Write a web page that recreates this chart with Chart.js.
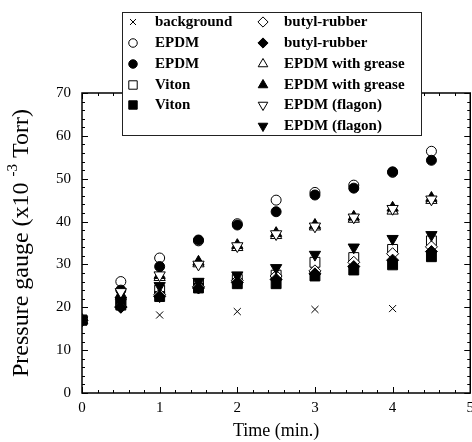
<!DOCTYPE html>
<html>
<head>
<meta charset="utf-8">
<script src="https://cdn.jsdelivr.net/npm/chart.js@4.4.1/dist/chart.umd.min.js"></script>
<style>
html, body { margin: 0; padding: 0; overflow: hidden; background: #fff; }
#pressure-chart { position: absolute; left: 0; top: 0; }
</style>
</head>
<body>
<canvas id="pressure-chart" width="480" height="442"></canvas>
<script>
// ==== data ====
var times = [0, 0.5, 1, 1.5, 2, 2.5, 3, 3.5, 4, 4.5];
var bgTimes = [1, 2, 3, 4];
var background = [18.2, 19.0, 19.5, 19.7];
var epdmOpen = [17, 26.0, 31.5, 35.5, 39.5, 45.0, 46.8, 48.5, 51.5, 56.4];
var epdmFilled = [17, 24.0, 29.5, 35.7, 39.2, 42.3, 46.2, 47.8, 51.6, 54.3];
var vitonOpen = [17, 21.0, 24.0, 25.5, 26.5, 27.5, 30.5, 31.6, 33.5, 35.5];
var vitonFilled = [17, 20.5, 22.5, 24.5, 25.5, 25.5, 27.3, 28.7, 29.9, 31.8];
var butylOpen = [17, 20.1, 22.9, 24.8, 26.2, 27.3, 28.5, 30.5, 32.5, 34.1];
var butylFilled = [17, 20.0, 22.5, 24.5, 25.8, 26.5, 27.8, 29.5, 31.0, 33.0];
var greaseOpen = [17, 22.5, 27.0, 30.2, 34.0, 36.8, 38.8, 40.6, 42.5, 45.0];
var greaseFilled = [17, 23.0, 27.5, 30.6, 34.5, 37.3, 39.2, 41.1, 43.2, 45.5];
var flagonOpen = [17, 23.6, 27.5, 30.0, 34.3, 37.1, 38.9, 41.0, 43.0, 45.2];
var flagonFilled = [17, 21.5, 25.0, 26.0, 27.5, 29.2, 32.3, 34.0, 36.0, 36.9];

var xTicks = [0, 1, 2, 3, 4, 5];
var yTicks = [0, 10, 20, 30, 40, 50, 60, 70];
var legendNames = ['background', 'EPDM', 'EPDM', 'Viton', 'Viton',
  'butyl-rubber', 'butyl-rubber', 'EPDM with grease', 'EPDM with grease', 'EPDM (flagon)', 'EPDM (flagon)'];

// ==== marker styles ====
var serif = '"Liberation Serif", "Times New Roman", serif';
var markers = [
  { style: 'crossRot', rot: 0, r: 5, fill: false },
  { style: 'circle', rot: 0, r: 5, fill: false },
  { style: 'circle', rot: 0, r: 5, fill: true },
  { style: 'rect', rot: 0, r: 7, fill: false },
  { style: 'rect', rot: 0, r: 7, fill: true },
  { style: 'rectRot', rot: 0, r: 6, fill: false },
  { style: 'rectRot', rot: 0, r: 6, fill: true },
  { style: 'triangle', rot: 0, r: 6.5, fill: false },
  { style: 'triangle', rot: 0, r: 6.5, fill: true },
  { style: 'triangle', rot: 180, r: 6.5, fill: false },
  { style: 'triangle', rot: 180, r: 6.5, fill: true }
];

function pairs(xs, ys) {
  return xs.map(function (x, i) { return { x: x, y: ys[i] }; });
}

var seriesData = [
  pairs(bgTimes, background),
  pairs(times, epdmOpen), pairs(times, epdmFilled),
  pairs(times, vitonOpen), pairs(times, vitonFilled),
  pairs(times, butylOpen), pairs(times, butylFilled),
  pairs(times, greaseOpen), pairs(times, greaseFilled),
  pairs(times, flagonOpen), pairs(times, flagonFilled)
];

var datasets = seriesData.map(function (d, i) {
  var m = markers[i];
  return {
    label: legendNames[i],
    data: d,
    order: seriesData.length - i,
    pointStyle: m.style,
    pointRotation: m.rot,
    pointRadius: m.r,
    pointBorderWidth: 1,
    pointBorderColor: '#000',
    pointBackgroundColor: m.fill ? '#000' : '#fff',
    showLine: false
  };
});

// ==== frame with inward ticks ====
var frame = {
  id: 'frame',
  beforeDatasetsDraw: function (chart) {
    var ctx = chart.ctx, a = chart.chartArea;
    var xs = chart.scales.x, ys = chart.scales.y;
    ctx.save();
    ctx.strokeStyle = '#000';
    ctx.lineWidth = 1.5;
    ctx.strokeRect(a.left, a.top, a.right - a.left, a.bottom - a.top);
    ctx.lineWidth = 1;
    ctx.beginPath();
    for (var i = 0; i <= 25; i++) {
      var px = Math.round(xs.getPixelForValue(i * 0.2)) + 0.5;
      var len = i % 5 === 0 ? 6 : 3;
      ctx.moveTo(px, a.bottom); ctx.lineTo(px, a.bottom - len);
      ctx.moveTo(px, a.top); ctx.lineTo(px, a.top + len);
    }
    for (var j = 0; j <= 35; j++) {
      var py = Math.round(ys.getPixelForValue(j * 2)) + 0.5;
      var l2 = j % 5 === 0 ? 6 : 3;
      ctx.moveTo(a.left, py); ctx.lineTo(a.left + l2, py);
      ctx.moveTo(a.right, py); ctx.lineTo(a.right - l2, py);
    }
    ctx.stroke();
    ctx.restore();
  }
};

// ==== y title with superscript ====
var yTitle = {
  id: 'yTitle',
  afterDraw: function (chart) {
    var ctx = chart.ctx;
    var parts = [
      { t: 'Pressure gauge (x10 ', f: '24px ' + serif, dy: 0 },
      { t: '-3', f: '15px ' + serif, dy: -9 },
      { t: ' Torr)', f: '24px ' + serif, dy: 0 }
    ];
    ctx.save();
    ctx.translate(22, 243);
    ctx.rotate(-Math.PI / 2);
    ctx.fillStyle = '#000';
    ctx.textBaseline = 'middle';
    var total = 0;
    parts.forEach(function (p) { ctx.font = p.f; p.w = ctx.measureText(p.t).width; total += p.w; });
    var x = -total / 2;
    parts.forEach(function (p) { ctx.font = p.f; ctx.fillText(p.t, x, p.dy); x += p.w; });
    ctx.restore();
  }
};

// ==== boxed two-column legend ====
var boxLegend = {
  id: 'boxLegend',
  afterDraw: function (chart) {
    var ctx = chart.ctx;
    ctx.save();
    ctx.fillStyle = '#fff';
    ctx.fillRect(122, 12, 299, 123);
    ctx.strokeStyle = '#222';
    ctx.lineWidth = 1;
    ctx.strokeRect(122.5, 12.5, 299, 123);
    ctx.font = 'bold 15px ' + serif;
    ctx.textBaseline = 'middle';
    var rows = [22, 43, 64, 85, 105, 126];
    legendNames.forEach(function (name, i) {
      var left = i < 5;
      var row = left ? i : i - 5;
      var mx = left ? 133 : 263, tx = left ? 155 : 284, y = rows[row];
      var m = markers[i];
      ctx.fillStyle = m.fill ? '#000' : '#fff';
      ctx.strokeStyle = '#000';
      ctx.lineWidth = 1;
      Chart.helpers.drawPoint(ctx, { pointStyle: m.style, rotation: m.rot, radius: m.r * 0.85, borderWidth: 1 }, mx, y);
      ctx.fillStyle = '#000';
      ctx.fillText(name, tx, y);
    });
    ctx.restore();
  }
};

var ctx = document.getElementById('pressure-chart').getContext('2d');
var pressureChart = new Chart(ctx, {
  type: 'scatter',
  data: { datasets: datasets },
  options: {
    responsive: false,
    animation: false,
    devicePixelRatio: 1,
    layout: { padding: { top: 93, right: 6, left: 0, bottom: 0 } },
    plugins: { legend: { display: false }, tooltip: { enabled: false } },
    scales: {
      x: {
        type: 'linear', min: 0, max: 5,
        afterFit: function (s) { s.height = 49; },
        afterBuildTicks: function (s) { s.ticks = xTicks.map(function (v) { return { value: v }; }); },
        grid: { display: false, drawTicks: false },
        border: { display: false },
        ticks: { padding: 6, color: '#000', font: { family: serif, size: 15 }, maxRotation: 0 },
        title: { display: true, text: 'Time (min.)', color: '#000', font: { family: serif, size: 18 }, padding: { top: 0, bottom: 0 } }
      },
      y: {
        type: 'linear', min: 0, max: 70,
        afterFit: function (s) { s.width = 82; },
        afterBuildTicks: function (s) { s.ticks = yTicks.map(function (v) { return { value: v }; }); },
        grid: { display: false, drawTicks: false },
        border: { display: false },
        ticks: { padding: 11, color: '#000', font: { family: serif, size: 15 } }
      }
    }
  },
  plugins: [frame, yTitle, boxLegend]
});
</script>
</body>
</html>
